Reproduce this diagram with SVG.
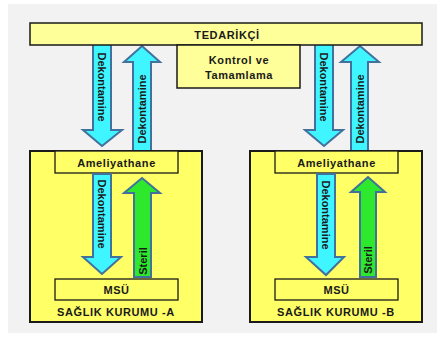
<svg xmlns="http://www.w3.org/2000/svg" width="437" height="344" viewBox="0 0 437 344">
<defs>
<style>
.bg{fill:#f2f2f2}
.pale{fill:#ffff99;stroke:#1a1a1a;stroke-width:1.5}
.org{fill:#ffff66;stroke:#1a1a1a;stroke-width:2}
.inner{fill:#ffff66;stroke:#1a1a1a;stroke-width:1.3}
.cyan{fill:#3ff5ff;stroke:#41719c;stroke-width:2;stroke-linejoin:miter}
.green{fill:#2ee82e;stroke:#41719c;stroke-width:2;stroke-linejoin:miter}
text{font-family:"Liberation Sans",Arial,sans-serif;font-weight:bold;font-size:11px;fill:#1a1a1a;text-anchor:middle}
.h{letter-spacing:0.6px}
.v{dominant-baseline:central}
</style>
</defs>
<rect x="0" y="0" width="437" height="344" fill="#ffffff"/>
<rect class="bg" x="8" y="4" width="429" height="329"/>

<g id="connectors">
<g id="arrow-top-a-down"><path class="cyan" d="M93,40 H111 V130 H122 L102,146 L83,130 H93 Z"/><text class="v" transform="translate(102,87) rotate(90)">Dekontamine</text></g>
<g id="arrow-top-a-up"><path class="cyan" d="M133,152 V62 H124 L142,46 L160,62 H151 V152 Z"/><text class="v" transform="translate(142,109) rotate(-90)">Dekontamine</text></g>
<g id="arrow-top-b-down"><path class="cyan" d="M315,40 H333 V130 H343 L324,146 L305,130 H315 Z"/><text class="v" transform="translate(324,87) rotate(90)">Dekontamine</text></g>
<g id="arrow-top-b-up"><path class="cyan" d="M351,152 V62 H341 L360,46 L379,62 H368 V152 Z"/><text class="v" transform="translate(359.5,109) rotate(-90)">Dekontamine</text></g>
</g>

<g id="tedarikci"><rect class="pale" x="30" y="23" width="392" height="22"/><text class="h" x="227" y="39">TEDARİKÇİ</text></g>
<g id="kontrol"><rect class="pale" x="177" y="45" width="123" height="43"/><text class="h" x="239" y="64">Kontrol ve</text><text class="h" x="239" y="79">Tamamlama</text></g>

<g id="saglik-a">
<rect class="org" x="30" y="151" width="172" height="171"/>
<text class="h" x="116" y="316">SAĞLIK KURUMU -A</text>
</g>
<g id="saglik-b">
<rect class="org" x="250" y="151" width="172" height="171"/>
<text class="h" x="336" y="316">SAĞLIK KURUMU -B</text>
</g>

<g id="ameliyathane-a"><rect class="inner" x="55" y="151" width="123" height="22"/><text class="h" x="116.5" y="166.5">Ameliyathane</text></g>
<g id="msu-a"><rect class="inner" x="55" y="279" width="123" height="21"/><text class="h" x="116.5" y="294">MSÜ</text></g>
<g id="ameliyathane-b"><rect class="inner" x="275" y="151" width="123" height="22"/><text class="h" x="336.5" y="166.5">Ameliyathane</text></g>
<g id="msu-b"><rect class="inner" x="275" y="279" width="123" height="21"/><text class="h" x="336.5" y="294">MSÜ</text></g>

<g id="connectors-inner">
<g id="arrow-a-dek"><path class="cyan" d="M93,174 H111 V257 H121 L102,274 L83,257 H93 Z"/><text class="v" transform="translate(102,214) rotate(90)">Dekontamine</text></g>
<g id="arrow-a-steril"><path class="green" d="M134,277 V193 H124 L142,178 L160,193 H151 V277 Z"/><text class="v" transform="translate(142.5,261) rotate(-90)">Steril</text></g>
<g id="arrow-b-dek"><path class="cyan" d="M317,174 H335 V257 H344 L326,275 L306,257 H317 Z"/><text class="v" transform="translate(326,215) rotate(90)">Dekontamine</text></g>
<g id="arrow-b-steril"><path class="green" d="M360,277 V192 H351 L368,177 L385,192 H376 V277 Z"/><text class="v" transform="translate(368,260) rotate(-90)">Steril</text></g>
</g>
</svg>
